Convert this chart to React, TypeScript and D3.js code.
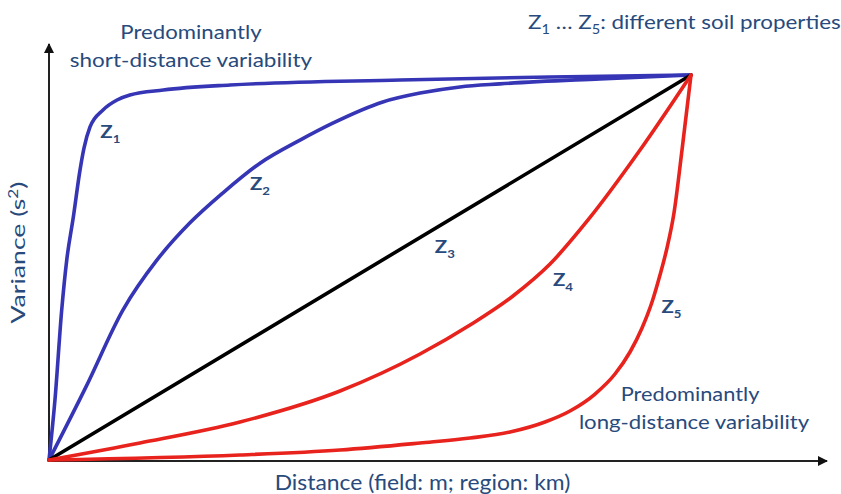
import React from "react";
import * as d3 from "d3";

type P = [number, number];

// normalized distance (0..1) and variance (0..1)
const z1: P[] = [
  [0, 0], [0.0093, 0.156], [0.0198, 0.39], [0.0276, 0.519], [0.0379, 0.631], [0.0483, 0.753],
  [0.0545, 0.81], [0.0639, 0.865], [0.0841, 0.909], [0.106, 0.935], [0.126, 0.948],
  [0.178, 0.961], [0.282, 0.974], [0.547, 0.987], [0.78, 0.995], [1, 1],
];
const z2: P[] = [
  [0, 0], [0.0576, 0.19], [0.1153, 0.39], [0.168, 0.519], [0.2196, 0.616], [0.271, 0.694],
  [0.3287, 0.771], [0.391, 0.831], [0.442, 0.875], [0.52, 0.93], [0.578, 0.953],
  [0.64, 0.969], [0.7025, 0.977], [0.858, 0.99], [1, 1],
];
const z3: P[] = [[0, 0], [1, 1]];
const z4: P[] = [
  [0, 0], [0.1417, 0.0442], [0.2975, 0.0987], [0.4533, 0.1792], [0.5779, 0.2753], [0.6558, 0.3506],
  [0.7227, 0.426], [0.7804, 0.509], [0.8396, 0.6234], [0.9206, 0.805], [1, 1],
];
const z5: P[] = [
  [0, 0], [0.2975, 0.013], [0.4533, 0.026], [0.5779, 0.0442], [0.6558, 0.0571], [0.7181, 0.0727],
  [0.7726, 0.0987], [0.8115, 0.1273], [0.8505, 0.1714], [0.8816, 0.2234], [0.905, 0.2805],
  [0.9237, 0.3429], [0.9393, 0.4104], [0.9517, 0.4805], [0.9626, 0.5506], [0.9735, 0.6416],
  [0.986, 0.8052], [1, 1],
];

const seriesNames = ["1", "2", "3", "4", "5"];
const seriesColors = ["#3535b5", "#3535b5", "#000000", "#e8221c", "#e8221c"];
const seriesData = [z1, z2, z3, z4, z5];
// label anchor positions in data units
const labelPos: P[] = [[0.08, 0.836], [0.313, 0.701], [0.601, 0.538], [0.785, 0.452], [0.954, 0.382]];

const W = 841;
const H = 494;
const FONT = "Lato, Carlito, Calibri, 'Open Sans', sans-serif";
const TXT = "#284a7c";

function T(props: {
  x: number;
  y: number;
  sx: number;
  size: number;
  anchor?: string;
  rotate?: number;
  bold?: boolean;
  children: React.ReactNode;
}) {
  const { x, y, sx, size, anchor = "start", rotate = 0, bold = false, children } = props;
  return (
    <text
      transform={`translate(${x},${y}) rotate(${rotate}) scale(${sx},1)`}
      textAnchor={anchor}
      fontSize={size}
      fontWeight={bold ? 700 : 400}
      fill={TXT}
    >
      {children}
    </text>
  );
}

export default function App() {
  const x = d3.scaleLinear().domain([0, 1]).range([49, 691]);
  const y = d3.scaleLinear().domain([0, 1]).range([460, 75]);
  const line = d3
    .line<P>()
    .x((d) => x(d[0]))
    .y((d) => y(d[1]))
    .curve(d3.curveMonotoneX);

  const x0 = x(0);
  const y0 = y(0);

  return (
    <svg
      width={W}
      height={H}
      style={{ position: "absolute", left: 0, top: 0, background: "#fff" }}
      fontFamily={FONT}
    >
      <defs>
        <marker id="arr" viewBox="0 0 10 10" refX="9" refY="5" markerWidth="5" markerHeight="5" orient="auto">
          <path d="M0,0 L10,5 L0,10 Z" fill="#111" />
        </marker>
      </defs>
      {/* axes */}
      <line x1={x0} y1={y0 + 1} x2={x0} y2={44} stroke="#222" strokeWidth={2} markerEnd="url(#arr)" />
      <line x1={x0 - 1} y1={y0 + 1} x2={827} y2={y0 + 1} stroke="#222" strokeWidth={2} markerEnd="url(#arr)" />

      {seriesData.map((d, i) => (
        <path key={i} d={line(d) || ""} fill="none" stroke={seriesColors[i]} strokeWidth={3.6} strokeLinecap="round" />
      ))}

      {seriesNames.map((n, i) => (
        <T key={n} x={x(labelPos[i][0])} y={y(labelPos[i][1])} sx={1.2} size={17} bold>
          Z<tspan fontSize={11} dy={5}>{n}</tspan>
        </T>
      ))}

      {/* annotations */}
      <T x={191} y={39} sx={1.11} size={20} anchor="middle">Predominantly</T>
      <T x={191} y={67} sx={1.125} size={20} anchor="middle">short-distance variability</T>
      <T x={690} y={401} sx={1.09} size={20} anchor="middle">Predominantly</T>
      <T x={694} y={429} sx={1.11} size={20} anchor="middle">long-distance variability</T>
      <T x={528} y={29} sx={1.12} size={20}>
        Z<tspan fontSize={13} dy={5}>1</tspan>
        <tspan dy={-5}> … Z</tspan>
        <tspan fontSize={13} dy={5}>5</tspan>
        <tspan dy={-5}>: different soil properties</tspan>
      </T>
      <T x={422.5} y={490} sx={1.09} size={21} anchor="middle">Distance (field: m; region: km)</T>
      <T x={25} y={252.5} sx={1.33} size={20} anchor="middle" rotate={-90}>
        Variance (s<tspan fontSize={13} dy={-7}>2</tspan>
        <tspan dy={7}>)</tspan>
      </T>
    </svg>
  );
}
